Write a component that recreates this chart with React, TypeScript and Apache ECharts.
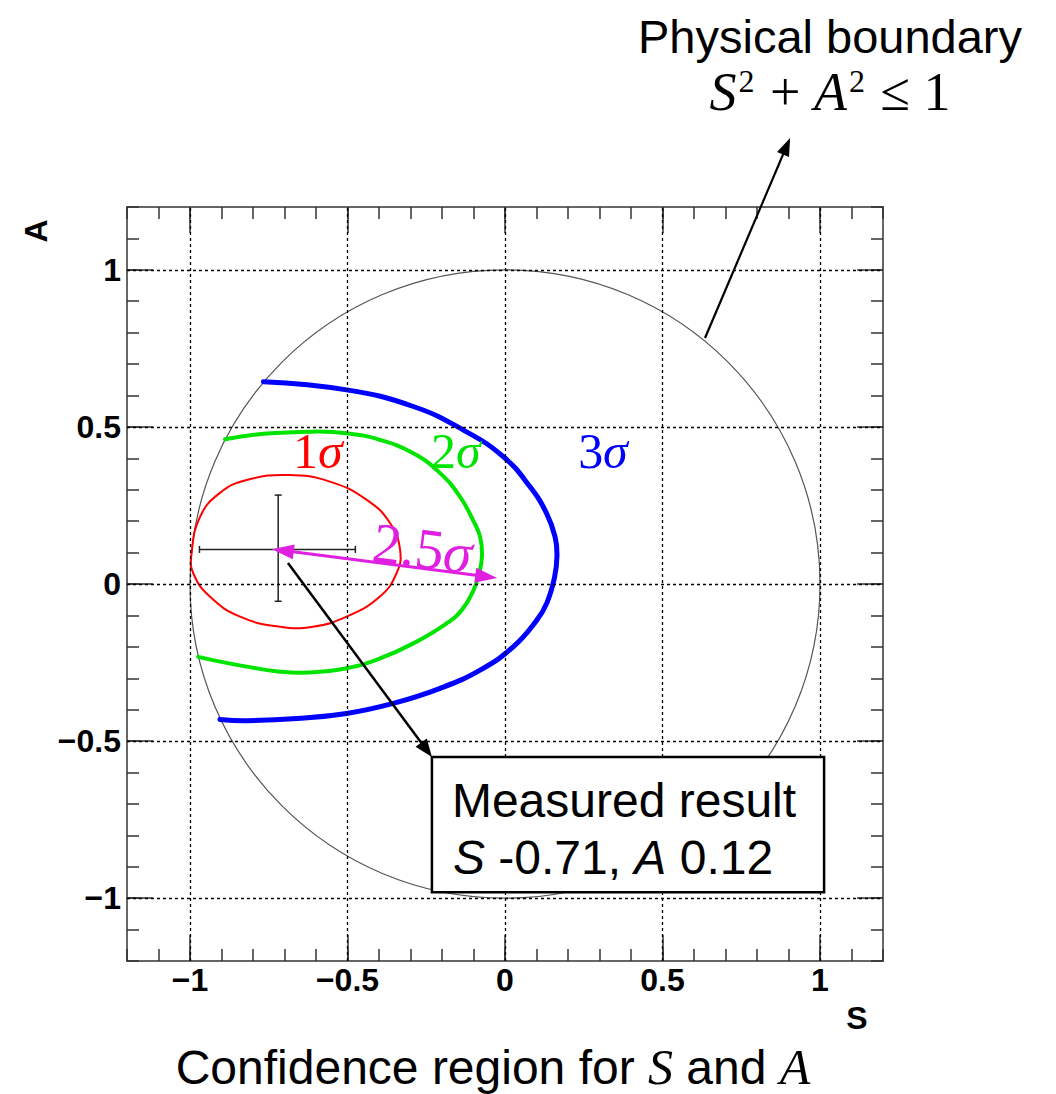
import React, { useEffect, useRef } from "react";
import * as echarts from "echarts";

// ---- axes ----
const S_MIN = -1.2;
const S_MAX = 1.2;
const A_MIN = -1.2;
const A_MAX = 1.2;
const MAJOR_TICKS = [-1, -0.5, 0, 0.5, 1];
const MINOR_STEP = 0.1;

// ---- confidence contours (S, A) ----
const CONTOUR_1SIGMA: number[][] = [
  [-0.995, 0.098], [-0.968, 0.214], [-0.905, 0.29], [-0.82, 0.331], [-0.688, 0.347],
  [-0.556, 0.326], [-0.439, 0.268], [-0.365, 0.194], [-0.333, 0.108], [-0.344, 0.035],
  [-0.397, -0.04], [-0.503, -0.104], [-0.61, -0.136], [-0.714, -0.136], [-0.841, -0.104],
  [-0.937, -0.04], [-0.99, 0.035],
];
const CONTOUR_2SIGMA: number[][] = [
  [-0.889, 0.461], [-0.767, 0.478], [-0.609, 0.485], [-0.503, 0.48], [-0.397, 0.459],
  [-0.291, 0.416], [-0.206, 0.353], [-0.143, 0.278], [-0.1, 0.2], [-0.079, 0.15],
  [-0.073, 0.09], [-0.083, 0.03], [-0.1, -0.02], [-0.135, -0.08], [-0.185, -0.125],
  [-0.291, -0.189], [-0.397, -0.237], [-0.503, -0.268], [-0.63, -0.282], [-0.714, -0.279],
  [-0.82, -0.263], [-0.905, -0.247], [-0.974, -0.232],
];
const CONTOUR_3SIGMA: number[][] = [
  [-0.767, 0.644], [-0.503, 0.618], [-0.291, 0.565], [-0.132, 0.49], [-0.005, 0.405],
  [0.079, 0.31], [0.132, 0.225], [0.159, 0.15], [0.165, 0.09], [0.157, 0.02],
  [0.133, -0.06], [0.101, -0.115], [0.026, -0.2], [-0.079, -0.274], [-0.206, -0.332],
  [-0.355, -0.38], [-0.503, -0.412], [-0.661, -0.428], [-0.82, -0.435], [-0.905, -0.431],
];

// ---- measured result with error bars ----
const MEASURED_POINT = [-0.72, 0.11];
const S_ERROR_RANGE = [-0.97, -0.475];
const A_ERROR_RANGE = [-0.055, 0.283];

// ---- physical boundary radius (S^2 + A^2 <= 1) ----
const BOUNDARY_RADIUS = 1;

// ---- annotations (data coordinates) ----
const BOUNDARY_ARROW = [[0.635, 0.783], [0.905, 1.42]];
const RESULT_ARROW = [[-0.689, 0.067], [-0.232, -0.551]];
const SIGMA_ARROW = [[-0.74, 0.111], [-0.025, 0.019]];
const RESULT_BOX = [[-0.232, -0.551], [1.013, -0.981]];
const SIGMA_LABELS = [
  { text: "1", at: [-0.594, 0.424], color: "#ff0000" },
  { text: "2", at: [-0.156, 0.424], color: "#00e400" },
  { text: "3", at: [0.311, 0.424], color: "#0000ff" },
];
const SIGMA_ARROW_LABEL = { text: "2.5", at: [-0.262, 0.115] };

const MAGENTA = "#e020e0";
const FRAME = "#333333";
const SANS = '"Liberation Sans", Arial, sans-serif';
const SERIF = '"Liberation Serif", "DejaVu Serif", serif';

const fmt = (v: number) => (v < 0 ? "\u2212" + String(-v) : String(v));

function axisPair(kind: "x" | "y", position: string, showLabels: boolean) {
  const base = {
    type: "value",
    min: kind === "x" ? S_MIN : A_MIN,
    max: kind === "x" ? S_MAX : A_MAX,
    position,
    gridIndex: 0,
  };
  const minor = {
    ...base,
    interval: MINOR_STEP,
    axisLine: { show: true, onZero: false, lineStyle: { color: FRAME, width: 1.5 } },
    axisTick: { show: true, inside: true, length: 12, lineStyle: { color: FRAME, width: 1.5 } },
    axisLabel: { show: false },
    splitLine: { show: false },
  };
  const major = {
    ...base,
    axisLine: { show: false, onZero: false },
    axisTick: {
      show: true,
      inside: true,
      length: 26,
      customValues: MAJOR_TICKS,
      lineStyle: { color: FRAME, width: 1.5 },
    },
    axisLabel: {
      show: showLabels,
      customValues: MAJOR_TICKS,
      formatter: fmt,
      color: "#000",
      fontFamily: SANS,
      fontWeight: "bold",
      fontSize: 32,
      margin: kind === "x" ? 3 : 6,
    },
    splitLine: { show: false },
  };
  return [minor, major];
}

function contourSeries(name: string, pts: number[][], color: string, width: number, closed: boolean) {
  return {
    name,
    type: "custom",
    xAxisIndex: 0,
    yAxisIndex: 0,
    z: 3,
    silent: true,
    encode: { x: 0, y: 1 },
    data: pts,
    renderItem: (params: any, api: any) => {
      if (params.dataIndex !== 0) return null;
      const points = pts.map((p) => api.coord(p));
      return {
        type: closed ? "polygon" : "polyline",
        shape: { points, smooth: 0.45, smoothConstraint: false },
        style: { fill: "none", stroke: color, lineWidth: width, lineJoin: "round", lineCap: "round" },
      };
    },
  };
}

function buildOption() {
  return {
    animation: false,
    backgroundColor: "#ffffff",
    grid: { left: 127, top: 207, width: 756, height: 754, containLabel: false },
    xAxis: [...axisPair("x", "bottom", true), ...axisPair("x", "top", false)],
    yAxis: [...axisPair("y", "left", true), ...axisPair("y", "right", false)],
    series: [
      {
        name: "grid",
        type: "line",
        xAxisIndex: 0,
        yAxisIndex: 0,
        data: [],
        silent: true,
        markLine: {
          silent: true,
          animation: false,
          symbol: ["none", "none"],
          label: { show: false },
          lineStyle: { type: [3, 3], color: "#000", width: 1.3 },
          emphasis: { disabled: true },
          data: [
            ...MAJOR_TICKS.map((v) => ({ xAxis: v })),
            ...MAJOR_TICKS.map((v) => ({ yAxis: v })),
          ],
        },
      },
      contourSeries("1 sigma", CONTOUR_1SIGMA, "#ff0000", 2, true),
      contourSeries("2 sigma", CONTOUR_2SIGMA, "#00e400", 4, false),
      contourSeries("3 sigma", CONTOUR_3SIGMA, "#0000ff", 5, false),
      {
        name: "measured",
        type: "custom",
        xAxisIndex: 0,
        yAxisIndex: 0,
        z: 4,
        encode: { x: [0, 2, 3], y: [1, 4, 5] },
        data: [[
          MEASURED_POINT[0], MEASURED_POINT[1],
          S_ERROR_RANGE[0], S_ERROR_RANGE[1],
          A_ERROR_RANGE[0], A_ERROR_RANGE[1],
        ]],
        renderItem: (params: any, api: any) => {
          const c = api.coord([api.value(0), api.value(1)]);
          const l = api.coord([api.value(2), api.value(1)]);
          const r = api.coord([api.value(3), api.value(1)]);
          const b = api.coord([api.value(0), api.value(4)]);
          const t = api.coord([api.value(0), api.value(5)]);
          const cap = 3.5;
          const style = { stroke: "#222", lineWidth: 1.5 };
          const seg = (x1: number, y1: number, x2: number, y2: number) => ({
            type: "line",
            shape: { x1, y1, x2, y2 },
            style,
          });
          return {
            type: "group",
            children: [
              seg(l[0], c[1], r[0], c[1]),
              seg(c[0], b[1], c[0], t[1]),
              seg(l[0], c[1] - cap, l[0], c[1] + cap),
              seg(r[0], c[1] - cap, r[0], c[1] + cap),
              seg(c[0] - cap, b[1], c[0] + cap, b[1]),
              seg(c[0] - cap, t[1], c[0] + cap, t[1]),
            ],
          };
        },
      },
    ],
  };
}

function arrowEls(p0: number[], p1: number[], color: string, lw: number, hl: number, hw: number, both: boolean) {
  const dx = p1[0] - p0[0];
  const dy = p1[1] - p0[1];
  const L = Math.hypot(dx, dy);
  const ux = dx / L;
  const uy = dy / L;
  const nx = -uy;
  const ny = ux;
  const head = (tip: number[], dir: number[]) => ({
    type: "polygon",
    z: 20,
    silent: true,
    shape: {
      points: [
        [tip[0], tip[1]],
        [tip[0] - dir[0] * hl + nx * hw / 2, tip[1] - dir[1] * hl + ny * hw / 2],
        [tip[0] - dir[0] * hl - nx * hw / 2, tip[1] - dir[1] * hl - ny * hw / 2],
      ],
    },
    style: { fill: color },
  });
  const start = both ? [p0[0] + ux * hl * 0.7, p0[1] + uy * hl * 0.7] : p0;
  const end = [p1[0] - ux * hl * 0.7, p1[1] - uy * hl * 0.7];
  const els: any[] = [
    {
      type: "line",
      z: 20,
      silent: true,
      shape: { x1: start[0], y1: start[1], x2: end[0], y2: end[1] },
      style: { stroke: color, lineWidth: lw },
    },
    head(p1, [ux, uy]),
  ];
  if (both) els.push(head(p0, [-ux, -uy]));
  return els;
}

function buildGraphics(toPx: (p: number[]) => number[]) {
  const c = toPx([0, 0]);
  const rx = toPx([BOUNDARY_RADIUS, 0])[0] - c[0];
  const ry = c[1] - toPx([0, BOUNDARY_RADIUS])[1];
  const box0 = toPx(RESULT_BOX[0]);
  const box1 = toPx(RESULT_BOX[1]);
  const els: any[] = [];

  els.push({
    type: "ellipse",
    z: 1,
    silent: true,
    shape: { cx: c[0], cy: c[1], rx, ry },
    style: { fill: "none", stroke: "#555", lineWidth: 1.2 },
  });

  els.push(...arrowEls(toPx(BOUNDARY_ARROW[0]), toPx(BOUNDARY_ARROW[1]), "#000", 2.2, 18, 13, false));
  els.push(...arrowEls(toPx(RESULT_ARROW[0]), toPx(RESULT_ARROW[1]), "#000", 2.5, 18, 14, false));
  const sa0 = toPx(SIGMA_ARROW[0]);
  const sa1 = toPx(SIGMA_ARROW[1]);
  els.push(...arrowEls(sa0, sa1, MAGENTA, 3, 22, 15, true));

  // result box
  els.push({
    type: "rect",
    z: 30,
    silent: true,
    shape: { x: box0[0], y: box0[1], width: box1[0] - box0[0], height: box1[1] - box0[1] },
    style: { fill: "#fff", stroke: "#000", lineWidth: 2.5 },
  });
  els.push({
    type: "text",
    z: 31,
    x: box0[0] + 20,
    y: box0[1] + 43,
    style: {
      text: "Measured result",
      fill: "#000",
      fontFamily: SANS,
      fontSize: 48,
      align: "left",
      verticalAlign: "middle",
    },
  });
  els.push({
    type: "text",
    z: 31,
    x: box0[0] + 21,
    y: box0[1] + 100,
    style: {
      text: "{i|S}{n| -0.71, }{i|A}{n| 0.12}",
      fill: "#000",
      align: "left",
      verticalAlign: "middle",
      rich: {
        n: { fontFamily: SANS, fontSize: 48, fill: "#000" },
        i: { fontFamily: SANS, fontSize: 48, fontStyle: "italic", fill: "#000" },
      },
    },
  });

  // sigma labels
  SIGMA_LABELS.forEach((lab) => {
    const p = toPx(lab.at);
    els.push({
      type: "text",
      z: 25,
      x: p[0],
      y: p[1],
      style: {
        text: `{n|${lab.text}}{i|\u03c3}`,
        align: "center",
        verticalAlign: "middle",
        rich: {
          n: { fontFamily: SERIF, fontSize: 50, fill: lab.color },
          i: { fontFamily: SERIF, fontSize: 50, fontStyle: "italic", fill: lab.color },
        },
      },
    });
  });
  const lp = toPx(SIGMA_ARROW_LABEL.at);
  els.push({
    type: "text",
    z: 25,
    x: lp[0],
    y: lp[1],
    rotation: -Math.atan2(sa1[1] - sa0[1], sa1[0] - sa0[0]),
    style: {
      text: `{n|${SIGMA_ARROW_LABEL.text}}{i|\u03c3}`,
      align: "center",
      verticalAlign: "middle",
      rich: {
        n: { fontFamily: SERIF, fontSize: 57, fill: MAGENTA },
        i: { fontFamily: SERIF, fontSize: 57, fontStyle: "italic", fill: MAGENTA },
      },
    },
  });

  // physical boundary text
  els.push({
    type: "text",
    z: 25,
    x: 830,
    y: 36,
    style: {
      text: "Physical boundary",
      fill: "#000",
      fontFamily: SANS,
      fontSize: 47,
      align: "center",
      verticalAlign: "middle",
    },
  });
  els.push({
    type: "text",
    z: 25,
    x: 830,
    y: 92,
    style: {
      text: "{i|S}{s|2}{n| + }{i|A}{s|2}{n| \u2264 1}",
      align: "center",
      verticalAlign: "middle",
      rich: {
        n: { fontFamily: SERIF, fontSize: 54, lineHeight: 56, fill: "#000" },
        i: { fontFamily: SERIF, fontSize: 54, lineHeight: 56, fontStyle: "italic", fill: "#000" },
        s: { fontFamily: SERIF, fontSize: 32, lineHeight: 56, fill: "#000", padding: [0, 2, 22, 2] },
      },
    },
  });

  // axis titles
  els.push({
    type: "text",
    z: 25,
    x: 857,
    y: 1018,
    style: {
      text: "S",
      fill: "#000",
      fontFamily: SANS,
      fontWeight: "bold",
      fontSize: 32,
      align: "center",
      verticalAlign: "middle",
    },
  });
  els.push({
    type: "text",
    z: 25,
    x: 36,
    y: 231,
    rotation: Math.PI / 2,
    style: {
      text: "A",
      fill: "#000",
      fontFamily: SANS,
      fontWeight: "bold",
      fontSize: 32,
      align: "center",
      verticalAlign: "middle",
    },
  });

  // caption
  els.push({
    type: "text",
    z: 25,
    x: 493,
    y: 1067,
    style: {
      text: "{n|Confidence region for }{i|S}{n| and }{i|A}",
      align: "center",
      verticalAlign: "middle",
      rich: {
        n: { fontFamily: SANS, fontSize: 48, lineHeight: 48, fill: "#000" },
        i: { fontFamily: SERIF, fontSize: 50, lineHeight: 48, fontStyle: "italic", fill: "#000" },
      },
    },
  });
  return els;
}

export default function App() {
  const ref = useRef<HTMLDivElement>(null);
  useEffect(() => {
    const chart = echarts.init(ref.current!, null, { renderer: "svg" });
    chart.setOption(buildOption() as any);
    const toPx = (p: number[]) => chart.convertToPixel({ seriesIndex: 1 }, p) as unknown as number[];
    chart.setOption({ graphic: buildGraphics(toPx) } as any);
    return () => chart.dispose();
  }, []);
  return (
    <div
      ref={ref}
      style={{ position: "absolute", left: 0, top: 0, width: 1056, height: 1094, background: "#fff" }}
    />
  );
}
